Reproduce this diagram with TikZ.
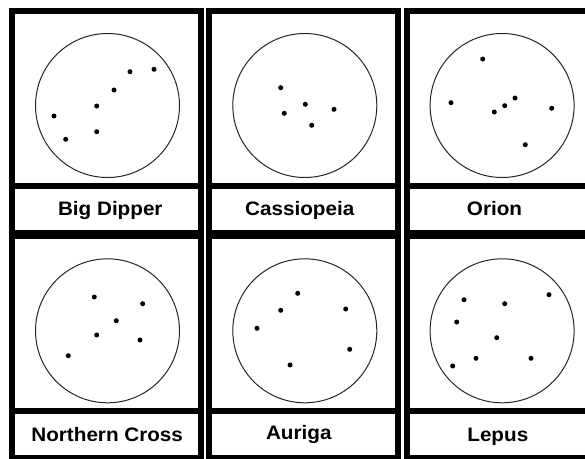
\documentclass[tikz,border=0pt]{standalone}
\usepackage{fontspec}
\setmainfont{Liberation Sans}
\begin{document}
\begin{tikzpicture}[x=1pt,y=-1pt,
  cellbox/.style={draw=black,line width=6pt},
  ring/.style={draw=black!85,line width=1pt},
  star/.style={circle,fill=black,inner sep=0pt,minimum size=5pt},
  lbl/.style={font=\fontsize{19.5}{22}\selectfont\bfseries,anchor=base,inner sep=0pt}]
\useasboundingbox (0,0) rectangle (585,458);
\fill[white] (0,0) rectangle (585,458);
\clip (0,0) rectangle (585,458);
% cells
\foreach \c in {0,1,2}{
  \foreach \r in {0,1}{
    \pgfmathsetmacro{\L}{12+197.3*\c}
    \pgfmathsetmacro{\T}{11+225.3*\r}
    \draw[cellbox] (\L,\T) rectangle ++(189,222);
    \draw[cellbox] (\L,\T+174.5) -- ++(189,0);
    \draw[ring] (\L+95.5,\T+94.5) circle[radius=72];
  }
}
% stars: Big Dipper
\foreach \p/\n in {{(154,69.3)}/a1,{(130,71.7)}/a2,{(114,90)}/a3,{(96.7,106)}/a4,{(54,116)}/a5,{(65.7,139.3)}/a6,{(96.7,131.7)}/a7}
  \node[star] (\n) at \p {};
% Cassiopeia
\foreach \p/\n in {{(280.7,87.7)}/b1,{(305.3,104.3)}/b2,{(284.3,113.3)}/b3,{(334,109.3)}/b4,{(311.7,125.3)}/b5}
  \node[star] (\n) at \p {};
% Orion
\foreach \p/\n in {{(482.7,59)}/c1,{(451,102.7)}/c2,{(515,98)}/c3,{(504.7,105.7)}/c4,{(494.3,112)}/c5,{(551.7,108.3)}/c6,{(525.3,144.7)}/c7}
  \node[star] (\n) at \p {};
% Northern Cross
\foreach \p/\n in {{(94.3,297)}/d1,{(142.7,303.7)}/d2,{(116.3,320.7)}/d3,{(96.7,335)}/d4,{(140,340)}/d5,{(68.3,355.7)}/d6}
  \node[star] (\n) at \p {};
% Auriga
\foreach \p/\n in {{(297.7,293.3)}/e1,{(280.7,310.3)}/e2,{(345.7,309)}/e3,{(257,328.3)}/e4,{(349.7,349.3)}/e5,{(290,365)}/e6}
  \node[star] (\n) at \p {};
% Lepus
\foreach \p/\n in {{(464,299.7)}/f1,{(504.7,303.7)}/f2,{(549,294.7)}/f3,{(456.7,322)}/f4,{(496.7,337.7)}/f5,{(476,358.3)}/f6,{(531,358.3)}/f7,{(452.7,366)}/f8}
  \node[star] (\n) at \p {};
% labels
\node[lbl] (lbigdipper) at (110.3,215) {\scalebox{1.06}[1]{Big Dipper}};
\node[lbl] (lcassiopeia) at (299.7,215) {\scalebox{1.06}[1]{Cassiopeia}};
\node[lbl] (lorion) at (494.5,215) {\scalebox{1.06}[1]{Orion}};
\node[lbl] (lnorthern) at (107.2,441) {\scalebox{1.06}[1]{Northern Cross}};
\node[lbl] (lauriga) at (298.8,439) {\scalebox{1.06}[1]{Auriga}};
\node[lbl] (llepus) at (497.8,441) {\scalebox{1.06}[1]{Lepus}};
\end{tikzpicture}
\end{document}
